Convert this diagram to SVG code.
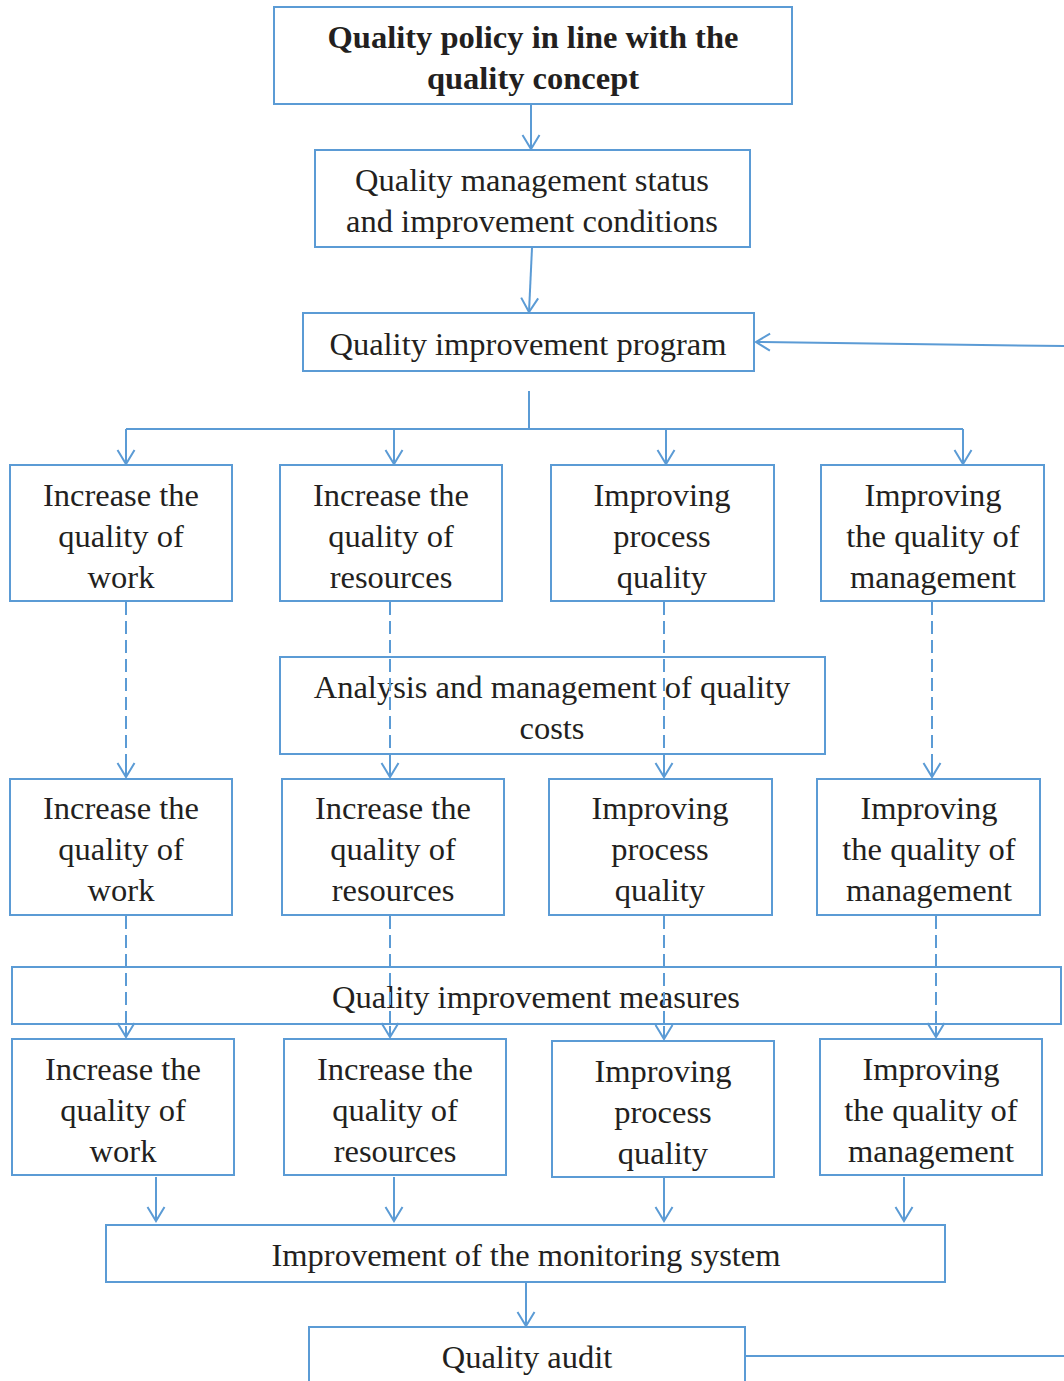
<svg xmlns="http://www.w3.org/2000/svg" width="1064" height="1381" viewBox="0 0 1064 1381">
<defs>
<style>
.b{fill:#fff;stroke:#5B9BD5;stroke-width:2}
.t{font-family:"Liberation Serif","Times New Roman",serif;font-size:32.5px;fill:#231f20;text-anchor:middle}
.bold{font-weight:bold}
.c{fill:none;stroke:#5B9BD5;stroke-width:2}
.d{fill:none;stroke:#5B9BD5;stroke-width:2;stroke-dasharray:13,6}
</style>
<marker id="ah" viewBox="0 0 20 20" refX="17" refY="10" markerWidth="20" markerHeight="20" markerUnits="userSpaceOnUse" orient="auto">
<path d="M3,1.5 L17,10 L3,18.5" fill="none" stroke="#5B9BD5" stroke-width="2"/>
</marker>
</defs>
<rect width="1064" height="1381" fill="#fff"/>
<g id="connectors">
<line class="c" x1="531" y1="104" x2="531" y2="149" marker-end="url(#ah)"/>
<line class="c" x1="532" y1="248" x2="529" y2="312" marker-end="url(#ah)"/>
<line class="c" x1="1064" y1="346" x2="756" y2="342" marker-end="url(#ah)"/>
<polyline class="c" points="529,391 529,429"/>
<polyline class="c" points="126,429 963,429"/>
<line class="c" x1="126" y1="429" x2="126" y2="464" marker-end="url(#ah)"/>
<line class="c" x1="394" y1="429" x2="394" y2="464" marker-end="url(#ah)"/>
<line class="c" x1="666" y1="429" x2="666" y2="464" marker-end="url(#ah)"/>
<line class="c" x1="963" y1="429" x2="963" y2="464" marker-end="url(#ah)"/>
<line class="c" x1="156" y1="1177" x2="156" y2="1221" marker-end="url(#ah)"/>
<line class="c" x1="394" y1="1177" x2="394" y2="1221" marker-end="url(#ah)"/>
<line class="c" x1="664" y1="1178" x2="664" y2="1221" marker-end="url(#ah)"/>
<line class="c" x1="904" y1="1177" x2="904" y2="1221" marker-end="url(#ah)"/>
<line class="c" x1="526" y1="1283" x2="526" y2="1326" marker-end="url(#ah)"/>
<polyline class="c" points="745,1356 1064,1356"/>
</g>
<g id="top"><rect class="b" x="274" y="7" width="518" height="97"/>
<text class="t bold" x="533" y="48">Quality policy in line with the</text>
<text class="t bold" x="533" y="89">quality concept</text></g>
<g id="status"><rect class="b" x="315" y="150" width="435" height="97"/>
<text class="t" x="532" y="191">Quality management status</text>
<text class="t" x="532" y="232">and improvement conditions</text></g>
<g id="program"><rect class="b" x="303" y="313" width="451" height="58"/>
<text class="t" x="528" y="355">Quality improvement program</text></g>
<g id="a1"><rect class="b" x="10" y="465" width="222" height="136"/>
<text class="t" x="121" y="506">Increase the</text><text class="t" x="121" y="547">quality of</text><text class="t" x="121" y="588">work</text></g>
<g id="a2"><rect class="b" x="280" y="465" width="222" height="136"/>
<text class="t" x="391" y="506">Increase the</text><text class="t" x="391" y="547">quality of</text><text class="t" x="391" y="588">resources</text></g>
<g id="a3"><rect class="b" x="551" y="465" width="223" height="136"/>
<text class="t" x="662" y="506">Improving</text><text class="t" x="662" y="547">process</text><text class="t" x="662" y="588">quality</text></g>
<g id="a4"><rect class="b" x="821" y="465" width="223" height="136"/>
<text class="t" x="933" y="506">Improving</text><text class="t" x="933" y="547">the quality of</text><text class="t" x="933" y="588">management</text></g>
<g id="analysis"><rect class="b" x="280" y="657" width="545" height="97"/>
<text class="t" x="552" y="698">Analysis and management of quality</text>
<text class="t" x="552" y="739">costs</text></g>
<g id="dashed1">
<line class="d" x1="126" y1="602" x2="126" y2="770"/><line class="c" x1="126" y1="766" x2="126" y2="777" marker-end="url(#ah)"/>
<line class="d" x1="390" y1="602" x2="390" y2="770"/><line class="c" x1="390" y1="766" x2="390" y2="777" marker-end="url(#ah)"/>
<line class="d" x1="664" y1="602" x2="664" y2="770"/><line class="c" x1="664" y1="766" x2="664" y2="777" marker-end="url(#ah)"/>
<line class="d" x1="932" y1="602" x2="932" y2="770"/><line class="c" x1="932" y1="766" x2="932" y2="777" marker-end="url(#ah)"/>
</g>
<g id="b1"><rect class="b" x="10" y="779" width="222" height="136"/>
<text class="t" x="121" y="819">Increase the</text><text class="t" x="121" y="860">quality of</text><text class="t" x="121" y="901">work</text></g>
<g id="b2"><rect class="b" x="282" y="779" width="222" height="136"/>
<text class="t" x="393" y="819">Increase the</text><text class="t" x="393" y="860">quality of</text><text class="t" x="393" y="901">resources</text></g>
<g id="b3"><rect class="b" x="549" y="779" width="223" height="136"/>
<text class="t" x="660" y="819">Improving</text><text class="t" x="660" y="860">process</text><text class="t" x="660" y="901">quality</text></g>
<g id="b4"><rect class="b" x="817" y="779" width="223" height="136"/>
<text class="t" x="929" y="819">Improving</text><text class="t" x="929" y="860">the quality of</text><text class="t" x="929" y="901">management</text></g>
<g id="measures"><rect class="b" x="12" y="967" width="1049" height="57"/>
<text class="t" x="536" y="1008">Quality improvement measures</text></g>
<g id="dashed2">
<line class="d" x1="126" y1="916" x2="126" y2="1030"/><line class="c" x1="126" y1="1026" x2="126" y2="1037" marker-end="url(#ah)"/>
<line class="d" x1="390" y1="916" x2="390" y2="1030"/><line class="c" x1="390" y1="1026" x2="390" y2="1037" marker-end="url(#ah)"/>
<line class="d" x1="664" y1="916" x2="664" y2="1030"/><line class="c" x1="664" y1="1026" x2="664" y2="1039" marker-end="url(#ah)"/>
<line class="d" x1="936" y1="916" x2="936" y2="1030"/><line class="c" x1="936" y1="1026" x2="936" y2="1037" marker-end="url(#ah)"/>
</g>
<g id="c1"><rect class="b" x="12" y="1039" width="222" height="136"/>
<text class="t" x="123" y="1080">Increase the</text><text class="t" x="123" y="1121">quality of</text><text class="t" x="123" y="1162">work</text></g>
<g id="c2"><rect class="b" x="284" y="1039" width="222" height="136"/>
<text class="t" x="395" y="1080">Increase the</text><text class="t" x="395" y="1121">quality of</text><text class="t" x="395" y="1162">resources</text></g>
<g id="c3"><rect class="b" x="552" y="1041" width="222" height="136"/>
<text class="t" x="663" y="1082">Improving</text><text class="t" x="663" y="1123">process</text><text class="t" x="663" y="1164">quality</text></g>
<g id="c4"><rect class="b" x="820" y="1039" width="222" height="136"/>
<text class="t" x="931" y="1080">Improving</text><text class="t" x="931" y="1121">the quality of</text><text class="t" x="931" y="1162">management</text></g>
<g id="monitoring"><rect class="b" x="106" y="1225" width="839" height="57"/>
<text class="t" x="526" y="1266">Improvement of the monitoring system</text></g>
<g id="audit"><rect class="b" x="309" y="1327" width="436" height="70"/>
<text class="t" x="527" y="1368">Quality audit</text></g>
</svg>
